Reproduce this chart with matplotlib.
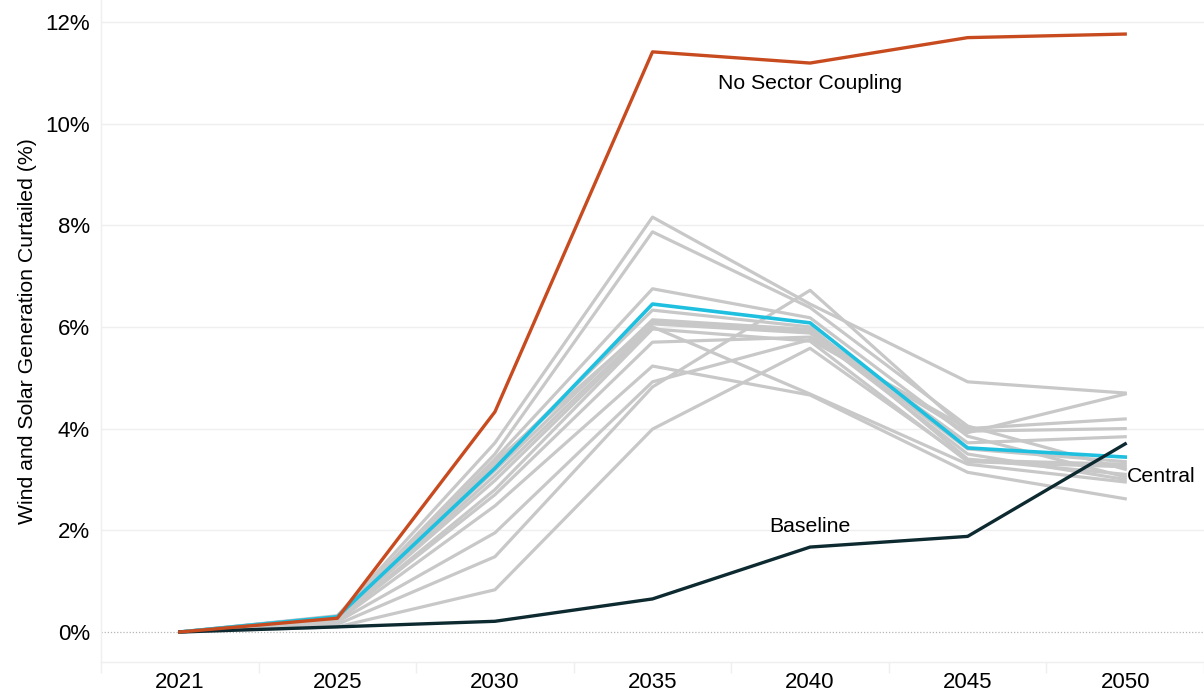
import numpy as np
import matplotlib
matplotlib.use('Agg')
import matplotlib.pyplot as plt
from matplotlib.ticker import FuncFormatter

plt.rcParams['font.family'] = ['Liberation Sans', 'DejaVu Sans']

# ------------------- Data -------------------
years = ['2021', '2025', '2030', '2035', '2040', '2045', '2050']

no_sector_coupling = [0, 0.27, 4.33, 11.41, 11.19, 11.69, 11.76]
baseline = [0, 0.10, 0.21, 0.65, 1.67, 1.88, 3.70]
central = [0, 0.30, 3.22, 6.45, 6.08, 3.62, 3.44]

sensitivities = [
    [0, 0.32, 3.72, 8.16, 6.45, 4.92, 4.70],
    [0, 0.30, 3.50, 7.87, 6.38, 4.05, 3.20],
    [0, 0.31, 3.40, 6.75, 6.18, 3.85, 3.05],
    [0, 0.28, 3.30, 6.33, 6.00, 3.40, 3.10],
    [0, 0.30, 3.18, 6.14, 5.95, 3.72, 3.84],
    [0, 0.28, 3.08, 6.06, 5.88, 3.50, 3.00],
    [0, 0.28, 2.98, 6.00, 4.68, 3.30, 2.95],
    [0, 0.25, 2.80, 5.96, 5.72, 3.35, 3.25],
    [0, 0.25, 2.70, 5.70, 5.80, 3.92, 4.68],
    [0, 0.22, 2.48, 5.23, 4.66, 3.14, 2.62],
    [0, 0.20, 1.95, 4.92, 5.75, 4.00, 4.19],
    [0, 0.15, 1.48, 4.82, 6.72, 3.95, 4.00],
    [0, 0.10, 0.83, 3.99, 5.58, 3.38, 3.30],
    [0, 0.29, 3.35, 6.10, 5.92, 3.60, 3.35],
]

# ------------------- Plot -------------------
fig = plt.figure(figsize=(12.04, 6.92), dpi=100)
ax = fig.add_axes([0.0839, 0.0434, 0.9161, 0.9566])

x = np.arange(len(years))
grid_col = '#efefef'

for yv in range(2, 13, 2):
    ax.axhline(yv, color=grid_col, lw=1.0, zorder=0)
ax.axhline(0, color='#b5b5b5', lw=0.9, ls=(0, (1, 1.5)), zorder=0)

for s in sensitivities:
    ax.plot(x, s, color='#c8c8c9', lw=2.3, zorder=1)

ax.plot(x, central, color='#1fbfdf', lw=2.6, zorder=2)
ax.plot(x, baseline, color='#0d2a31', lw=2.4, zorder=3)
ax.plot(x, no_sector_coupling, color='#c84b20', lw=2.4, zorder=4)

ax.text(4.0, 10.78, 'No Sector Coupling', ha='center', va='center', fontsize=15.3)
ax.text(4.0, 2.07, 'Baseline', ha='center', va='center', fontsize=15.3)
ax.text(6.01, 3.05, 'Central', ha='left', va='center', fontsize=15.3)

ax.set_xlim(-0.5, 6.5)
ax.set_ylim(-0.59, 12.43)
ax.set_xticks(x)
ax.set_xticklabels(years)
ax.set_xticks(np.arange(-0.5, 6.6, 1), minor=True)
ax.set_yticks(range(0, 13, 2))
ax.yaxis.set_major_formatter(FuncFormatter(lambda v, p: f'{v:.0f}%'))

ax.tick_params(axis='x', which='major', length=0, labelsize=16, pad=7)
ax.tick_params(axis='x', which='minor', length=8, color=grid_col, width=1)
ax.tick_params(axis='y', length=0, labelsize=16, pad=8)
ax.set_ylabel('Wind and Solar Generation Curtailed (%)', fontsize=15.3, labelpad=6)

for side in ['top', 'right']:
    ax.spines[side].set_visible(False)
for side in ['left', 'bottom']:
    ax.spines[side].set_color(grid_col)
    ax.spines[side].set_linewidth(1.0)

fig.savefig('out.png', dpi=100)
